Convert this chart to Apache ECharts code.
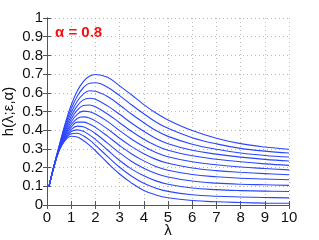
<!DOCTYPE html>
<html>
<head>
<meta charset="utf-8">
<script src="https://cdn.jsdelivr.net/npm/echarts@6/dist/echarts.min.js"></script>
<style>html,body{margin:0;padding:0;background:#fff}#c{width:319px;height:240px}</style>
</head>
<body>
<div id="c"></div>
<script>
var lam = [0.08,0.25,0.5,0.75,1,1.25,1.5,1.75,2,2.5,3,3.5,4,4.5,5,6,7,8,9,10];
var c1  = [0.097,0.19,0.315,0.435,0.535,0.61,0.66,0.688,0.698,0.683,0.637,0.588,0.537,0.492,0.455,0.398,0.357,0.328,0.31,0.298];
var c2  = [0.097,0.19,0.313,0.425,0.515,0.582,0.627,0.651,0.654,0.63,0.585,0.535,0.488,0.444,0.41,0.36,0.327,0.303,0.288,0.278];
var c3  = [0.097,0.19,0.31,0.415,0.495,0.555,0.593,0.611,0.608,0.58,0.535,0.485,0.44,0.398,0.367,0.325,0.298,0.278,0.265,0.257];
var c4  = [0.097,0.19,0.307,0.405,0.476,0.53,0.562,0.571,0.565,0.53,0.485,0.437,0.394,0.356,0.328,0.293,0.272,0.256,0.244,0.235];
var c5  = [0.097,0.19,0.305,0.395,0.46,0.507,0.532,0.535,0.525,0.487,0.44,0.393,0.352,0.318,0.293,0.263,0.245,0.231,0.22,0.212];
var c6  = [0.097,0.19,0.303,0.385,0.445,0.485,0.502,0.499,0.487,0.447,0.398,0.352,0.313,0.281,0.258,0.231,0.215,0.203,0.195,0.188];
var c7  = [0.097,0.188,0.3,0.377,0.43,0.463,0.471,0.465,0.45,0.407,0.357,0.312,0.274,0.244,0.223,0.198,0.184,0.175,0.168,0.162];
var c8  = [0.097,0.188,0.298,0.37,0.416,0.443,0.443,0.433,0.415,0.368,0.318,0.273,0.236,0.206,0.186,0.163,0.151,0.143,0.139,0.135];
var c9  = [0.097,0.188,0.296,0.363,0.404,0.422,0.418,0.403,0.382,0.331,0.279,0.233,0.197,0.169,0.15,0.128,0.117,0.111,0.108,0.105];
var c10 = [0.097,0.187,0.294,0.357,0.393,0.402,0.394,0.375,0.351,0.294,0.238,0.192,0.156,0.129,0.111,0.091,0.082,0.077,0.074,0.072];
var c11 = [0.097,0.186,0.292,0.351,0.381,0.384,0.37,0.348,0.32,0.26,0.202,0.154,0.116,0.09,0.073,0.055,0.047,0.043,0.04,0.038];
var c12 = [0.097,0.185,0.29,0.345,0.368,0.364,0.345,0.32,0.29,0.226,0.166,0.117,0.078,0.054,0.039,0.024,0.017,0.013,0.01,0.009];
var curves = [c1,c2,c3,c4,c5,c6,c7,c8,c9,c10,c11,c12];
var xTicks = [0,1,2,3,4,5,6,7,8,9,10];
var yTicks = [0,0.1,0.2,0.3,0.4,0.5,0.6,0.7,0.8,0.9,1];

var font = 'Liberation Sans, Arial, sans-serif';
var chart = echarts.init(document.getElementById('c'), null, {renderer:'canvas'});
var series = curves.map(function(c){
  return {
    type:'line', smooth:0.4, showSymbol:false, symbol:'none',
    data: lam.map(function(x,i){return [x,c[i]];}),
    lineStyle:{color:'#2b46ff', width:1.1},
    xAxisIndex:0, yAxisIndex:0, animation:false
  };
});
var common = {
  type:'value', min:0,
  axisLine:{show:true, lineStyle:{color:'#555', width:1}},
  axisTick:{show:true, inside:true, length:4, lineStyle:{color:'#555'}},
  splitLine:{show:false}
};
chart.setOption({
  animation:false,
  grid:{left:47, right:30, top:18, bottom:35, containLabel:false, outerBoundsMode:'none'},
  xAxis:[
    Object.assign({}, common, {position:'bottom', max:10, interval:1,
      name:'λ', nameLocation:'middle', nameGap:18, nameMoveOverlap:false,
      nameTextStyle:{fontFamily:font, fontSize:15, color:'#111'},
      axisLabel:{fontFamily:font, fontSize:15, color:'#111', margin:5, formatter:function(v){return xTicks.indexOf(v)>=0?String(v):'';}},
      splitLine:{show:true, lineStyle:{type:[1,3], color:'#b8b8b8'}}}),
    Object.assign({}, common, {position:'top', max:10, interval:1, axisLabel:{show:false}})
  ],
  yAxis:[
    Object.assign({}, common, {position:'left', max:1, interval:0.1,
      name:'h(λ;ε,α)', nameLocation:'middle', nameGap:31, nameMoveOverlap:false,
      nameTextStyle:{fontFamily:font, fontSize:15, color:'#111'},
      axisLabel:{fontFamily:font, fontSize:15, color:'#111', margin:4, formatter:function(v){return String(Math.round(v*10)/10);}},
      splitLine:{show:true, lineStyle:{type:[1,3], color:'#b8b8b8'}}}),
    Object.assign({}, common, {position:'right', max:1, interval:0.1, axisLabel:{show:false}})
  ],
  series: series,
  graphic:[{type:'text', left:55, top:25, style:{text:'α = 0.8', fill:'#f01010', font:'bold 15px '+font}}]
});
</script>
</body>
</html>
